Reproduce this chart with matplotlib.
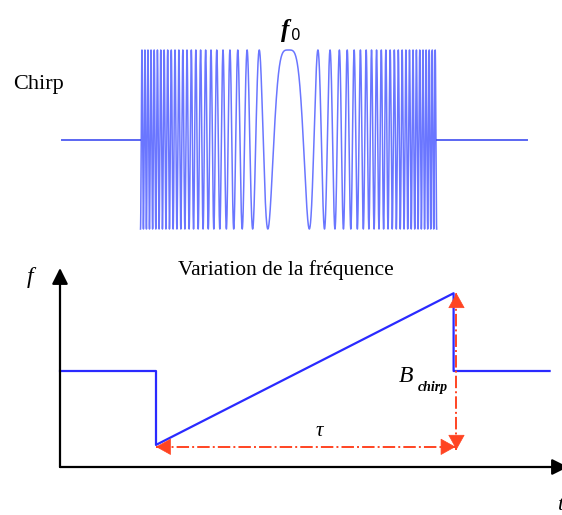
import numpy as np
import matplotlib.pyplot as plt

W, H = 562, 515

# Signal chirp (unités arbitraires, impulsion entre -1 et 1)
chirp_debut, chirp_fin = -1.0, 1.0
signal_debut, signal_fin = -1.53, 1.61
taux_chirp = 51.0  # phase = pi * k * t^2

# Variation de la fréquence
temps = [0.0, 1.0, 1.0, 4.1, 4.1, 5.1]
frequence = [1.0, 1.0, 0.23, 1.81, 1.0, 1.0]
f_bas = 0.21
t_tau = [1.0, 4.12]
t_bande = 4.13
f_bande = [0.18, 1.81]

bleu = '#2a2aff'
rouge = '#ff4422'
serif = 'Liberation Serif'


def px(x, y):
    return x / W, 1 - y / H


fig = plt.figure(figsize=(W / 100, H / 100), dpi=100)

# ---- Chirp ----
ax1 = fig.add_axes([62 / W, (H - 229) / H, (527 - 62) / W, (229 - 50) / H])
t = np.linspace(chirp_debut, chirp_fin, 60001)
s = np.cos(np.pi * taux_chirp * t ** 2)
ax1.plot([signal_debut, chirp_debut], [0, 0], color='#5a66f2', lw=1.4, clip_on=False)
ax1.plot([chirp_fin, signal_fin], [0, 0], color='#5a66f2', lw=1.4, clip_on=False)
ax1.plot(t, s, color='#3848ff', lw=1.1, alpha=0.75, clip_on=False)
ax1.set_xlim(signal_debut, signal_fin)
ax1.set_ylim(-1, 1)
ax1.axis('off')

# ---- Fréquence ----
ax2 = fig.add_axes([60 / W, (H - 467) / H, 502 / W, 199 / H])
ax2.set_xlim(0, 502 / 96)
ax2.set_ylim(0, 199 / 96)
ax2.axis('off')

ax2.plot(temps, frequence, color=bleu, lw=1.6, clip_on=False)

# axes avec flèches
fleche = dict(arrowstyle='-|>,head_length=0.6,head_width=0.3', color='black',
              lw=1.6, mutation_scale=16, shrinkA=0, shrinkB=0)
ax2.annotate('', xy=(0, 199 / 96), xytext=(0, 0), arrowprops=fleche,
             annotation_clip=False)
ax2.annotate('', xy=(508 / 96, 0), xytext=(0, 0), arrowprops=fleche,
             annotation_clip=False)

# tau et B_chirp en pointillés rouges
ax2.plot(t_tau, [f_bas, f_bas], color=rouge, lw=1.4, ls='-.', clip_on=False)
ax2.plot([t_bande, t_bande], f_bande, color=rouge, lw=1.4, ls='-.', clip_on=False)


def tete(x, y, dx, dy):
    ax2.annotate('', xy=(x, y), xytext=(x - dx, y - dy),
                 arrowprops=dict(arrowstyle='-|>,head_length=0.45,head_width=0.25',
                                 color=rouge, lw=0.5, mutation_scale=22,
                                 shrinkA=0, shrinkB=0),
                 annotation_clip=False)


tete(t_tau[0], f_bas, -0.01, 0)
tete(t_tau[1], f_bas, 0.01, 0)
tete(t_bande, f_bande[1], 0, 0.01)
tete(t_bande, f_bande[0], 0, -0.01)

# ---- Textes ----
fig.text(*px(13, 85), 'Chirp', family=serif, fontsize=16, va='center', ha='left')
fig.text(*px(289, 30), 'f', family=serif, fontsize=18, weight='bold',
         style='italic', ha='right', va='center')
fig.text(*px(291, 35), '0', family='DejaVu Sans', fontsize=11, ha='left', va='center')
fig.text(*px(286, 270), 'Variation de la fréquence', family=serif, fontsize=15.5,
         ha='center', va='center')
fig.text(*px(30, 277), 'f', family=serif, fontsize=17, style='italic',
         ha='center', va='center')
fig.text(*px(319, 431), 'τ', family=serif, fontsize=15, style='italic',
         ha='center', va='center')
fig.text(*px(406, 377), 'B', family=serif, fontsize=17, style='italic',
         ha='center', va='center')
fig.text(*px(433, 388), 'chirp', family=serif, fontsize=10, style='italic',
         weight='bold', ha='center', va='center')
fig.text(*px(557, 506), 't', family=serif, fontsize=16, style='italic',
         ha='left', va='center')

fig.savefig('out.png', dpi=100)
